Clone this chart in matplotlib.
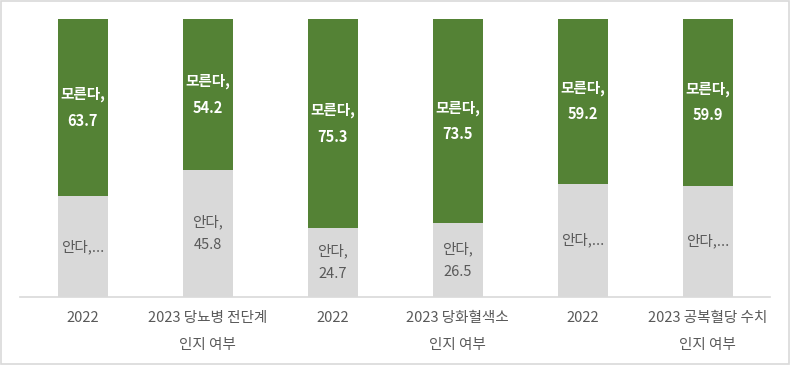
import matplotlib
matplotlib.use("Agg")
import matplotlib.pyplot as plt
from matplotlib.patches import Rectangle

plt.rcParams['font.family'] = ['Noto Sans CJK KR', 'DejaVu Sans']

categories = ["2022", "2023 당뇨병 전단계\n인지 여부", "2022", "2023 당화혈색소\n인지 여부",
              "2022", "2023 공복혈당 수치\n인지 여부"]
know = [36.3, 45.8, 24.7, 26.5, 40.8, 40.1]
dont_know = [63.7, 54.2, 75.3, 73.5, 59.2, 59.9]
know_labels = ["안다,...", "안다,\n45.8", "안다,\n24.7", "안다,\n26.5", "안다,...", "안다,..."]
dont_labels = [f"모른다,\n{v}" for v in dont_know]

fig = plt.figure(figsize=(7.9, 3.65), dpi=100)
ax = fig.add_axes([20/790, 1 - 297/365, 750/790, 278/365])

x = list(range(len(categories)))
gray = "#D9D9D9"
green = "#548235"
ax.bar(x, know, width=0.4, color=gray)
ax.bar(x, dont_know, bottom=know, width=0.4, color=green)

for i in x:
    ax.text(i, know[i] / 2, know_labels[i], ha="center", va="center", color="#595959",
            fontsize=10.5, linespacing=1.8)
    ax.text(i, know[i] + dont_know[i] / 2, dont_labels[i], ha="center", va="center",
            color="white", fontsize=10.5, fontweight="bold", linespacing=1.8)

ax.set_xlim(-0.5, len(categories) - 0.5)
ax.set_ylim(0, 100)
ax.set_xticks(x)
ax.set_xticklabels(categories, fontsize=10.5, color="#595959", linespacing=2.15, va="top")
ax.tick_params(axis="x", length=0, pad=10)
ax.set_yticks([])
for s in ["top", "right", "left"]:
    ax.spines[s].set_visible(False)
ax.spines["bottom"].set_color("#D9D9D9")
ax.spines["bottom"].set_linewidth(1.2)

fig.patches.append(Rectangle((0.0015, 0.003), 0.997, 0.994, transform=fig.transFigure,
                             fill=False, edgecolor="#D9D9D9", linewidth=1.2))

fig.savefig("out.png", dpi=100)
